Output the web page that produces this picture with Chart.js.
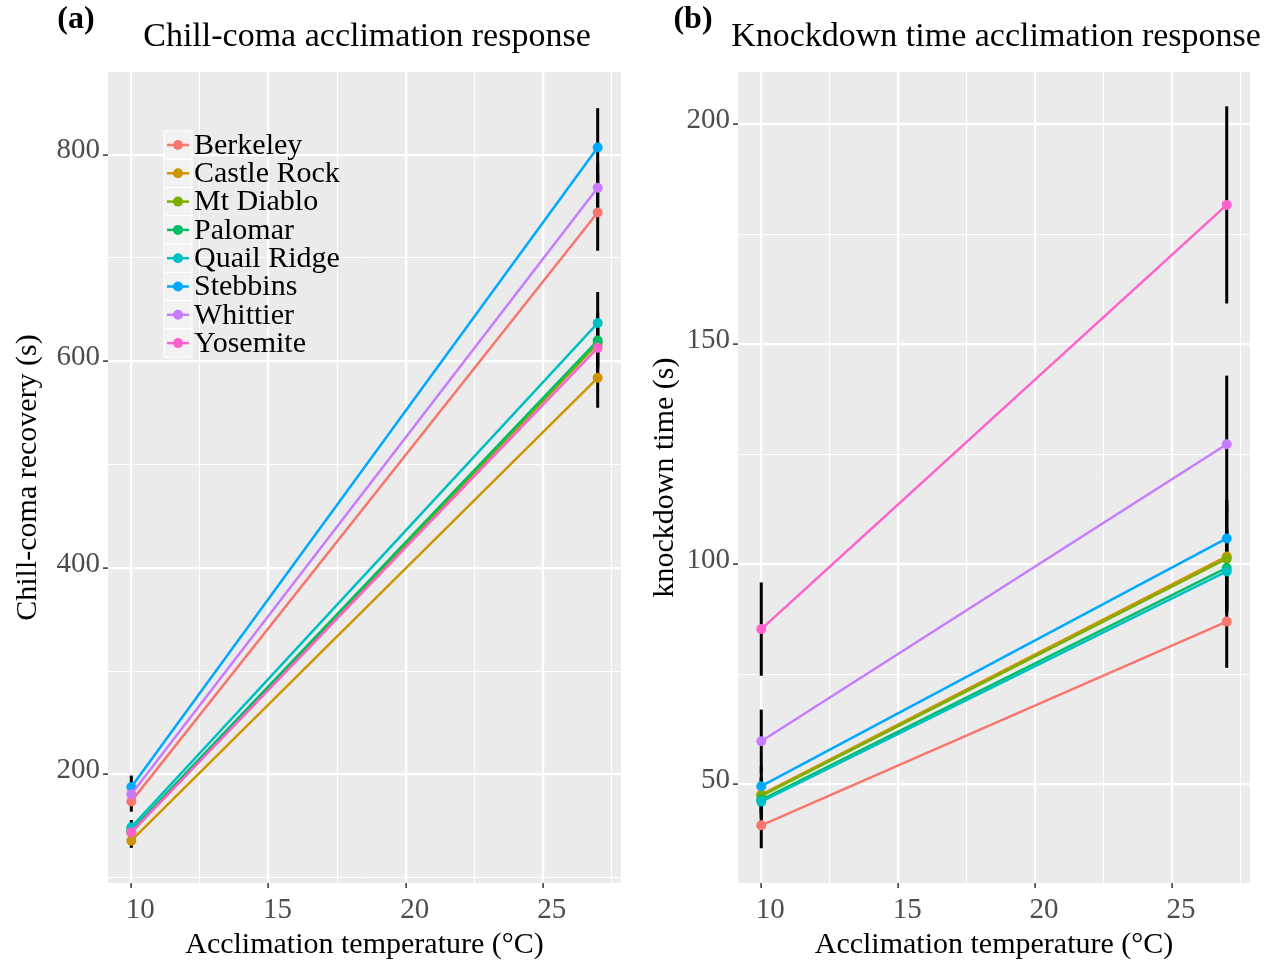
<!DOCTYPE html>
<html>
<head>
<meta charset="utf-8">
<script src="https://cdn.jsdelivr.net/npm/chart.js@4.4.1/dist/chart.umd.min.js"></script>
<style>
  body { margin: 0; background: #fff; }
  canvas { position: absolute; top: 0; }
  #chillChart { left: 0; }
  #kdChart { left: 637px; }
</style>
</head>
<body>
<canvas id="chillChart" width="637" height="964"></canvas>
<canvas id="kdChart" width="637" height="964"></canvas>
<script>
const temps = [10, 27];
const populations = ["Berkeley", "Castle Rock", "Mt Diablo", "Palomar", "Quail Ridge", "Stebbins", "Whittier", "Yosemite"];
const popColors = ["#F8766D", "#CD9600", "#7CAE00", "#00BE67", "#00BFC4", "#00A9FF", "#C77CFF", "#FF61CC"];

// chill-coma recovery (s), mean and error at each acclimation temp
const chillAt10 = [174, 136, 144, 146, 149, 188, 181, 144];
const chillAt27 = [744, 584, 617, 620, 637, 807, 768, 613];
const chillErr10 = [10, 7, 7, 8, 7, 11, 8, 7];
const chillErr27 = [37, 29, 22, 27, 30, 38, 24, 25];

// knockdown time (s)
const kdAt10 = [40.7, 47.7, 47.4, 46.5, 46.1, 49.6, 59.8, 85.3];
const kdAt27 = [87.0, 101.8, 101.3, 99.2, 98.4, 105.9, 127.3, 181.7];
const kdErr10 = [5.2, 4, 4, 4, 4, 4.5, 7.2, 10.6];
const kdErr27 = [10.5, 13, 12, 9, 9, 8.5, 15.6, 22.4];

const xTickValues = [10, 12.5, 15, 17.5, 20, 22.5, 25, 27.5];
const chillTickValues = [100, 200, 300, 400, 500, 600, 700, 800];
const kdTickValues = [50, 75, 100, 125, 150, 175, 200];

const SERIF = '"Liberation Serif", "Times New Roman", serif';

function buildDatasets(at10, at27, err10, err27) {
  return populations.map((name, i) => ({
    label: name,
    data: [{ x: temps[0], y: at10[i] }, { x: temps[1], y: at27[i] }],
    errors: [err10[i], err27[i]],
    borderColor: popColors[i],
    backgroundColor: popColors[i],
    borderWidth: 2.5,
    pointRadius: 5,
    pointHoverRadius: 5,
    pointBorderWidth: 0,
    order: populations.length - i
  }));
}

// grey panel like ggplot
const panelBg = {
  id: "panelBg",
  beforeDraw(chart) {
    const { ctx, chartArea: a } = chart;
    ctx.save();
    ctx.fillStyle = "#EBEBEB";
    ctx.fillRect(a.left, a.top, a.width, a.height);
    ctx.restore();
  }
};

const errorBars = {
  id: "errorBars",
  beforeDatasetsDraw(chart) {
    const { ctx, chartArea: a, scales: { y } } = chart;
    ctx.save();
    ctx.beginPath();
    ctx.rect(a.left, a.top, a.width, a.height);
    ctx.clip();
    ctx.strokeStyle = "#000";
    ctx.lineWidth = 3;
    chart.data.datasets.forEach((ds, i) => {
      const meta = chart.getDatasetMeta(i);
      ds.data.forEach((p, j) => {
        const px = meta.data[j].x;
        ctx.beginPath();
        ctx.moveTo(px, y.getPixelForValue(p.y - ds.errors[j]));
        ctx.lineTo(px, y.getPixelForValue(p.y + ds.errors[j]));
        ctx.stroke();
      });
    });
    ctx.restore();
  }
};

const panelTitle = {
  id: "panelTitle",
  afterDraw(chart, args, opts) {
    const { ctx } = chart;
    ctx.save();
    ctx.fillStyle = "#000";
    ctx.textBaseline = "middle";
    ctx.textAlign = "center";
    ctx.font = "bold 32px " + SERIF;
    ctx.fillText(opts.tag, opts.tagX, 20);
    ctx.font = "34px " + SERIF;
    ctx.fillText(opts.text, opts.textX, 37);
    ctx.restore();
  }
};

const insideLegend = {
  id: "insideLegend",
  afterDraw(chart, args, opts) {
    if (!opts.show) return;
    const { ctx } = chart;
    const rowH = 28.3;
    ctx.save();
    chart.data.datasets.forEach((ds, i) => {
      const cy = opts.y + i * rowH;
      ctx.fillStyle = "#F2F2F2";
      ctx.fillRect(opts.x, cy - rowH / 2, 28, rowH);
      ctx.strokeStyle = "#fff";
      ctx.lineWidth = 1;
      ctx.strokeRect(opts.x, cy - rowH / 2, 28, rowH);
      ctx.strokeStyle = ds.borderColor;
      ctx.lineWidth = 2.5;
      ctx.beginPath();
      ctx.moveTo(opts.x + 3, cy);
      ctx.lineTo(opts.x + 25, cy);
      ctx.stroke();
      ctx.fillStyle = ds.borderColor;
      ctx.beginPath();
      ctx.arc(opts.x + 14, cy, 5, 0, Math.PI * 2);
      ctx.fill();
      ctx.fillStyle = "#000";
      ctx.font = "30px " + SERIF;
      ctx.textBaseline = "middle";
      ctx.textAlign = "left";
      ctx.fillText(ds.label, opts.x + 30, cy + 1);
    });
    ctx.restore();
  }
};

function makeScales(yMin, yMax, yTicks, labelStep, yTitle, yWidth) {
  return {
    x: {
      type: "linear",
      min: 9.15,
      max: 27.85,
      afterBuildTicks: s => { s.ticks = xTickValues.map(v => ({ value: v })); },
      afterFit: s => { s.height = 81; },
      ticks: {
        callback: v => (v % 5 === 0 ? v : ""),
        font: { family: SERIF, size: 29 },
        color: "#4D4D4D",
        padding: 5,
        labelOffset: 9,
        maxRotation: 0,
        autoSkip: false
      },
      grid: {
        color: "#fff",
        lineWidth: c => (c.tick && c.tick.value % 5 === 0 ? 2.2 : 1),
        tickColor: c => (c.tick && c.tick.value % 5 === 0 ? "#333" : "rgba(0,0,0,0)"),
        tickWidth: 1.5,
        tickLength: 5
      },
      border: { display: false },
      title: {
        display: true,
        text: "Acclimation temperature (°C)",
        font: { family: SERIF, size: 30 },
        color: "#000",
        padding: { top: 0, bottom: 1 }
      }
    },
    y: {
      type: "linear",
      min: yMin,
      max: yMax,
      afterBuildTicks: s => { s.ticks = yTicks.map(v => ({ value: v })); },
      afterFit: s => { s.width = yWidth; },
      ticks: {
        callback: v => (v % labelStep === 0 ? v : ""),
        font: { family: SERIF, size: 29 },
        color: "#4D4D4D",
        padding: 3,
        labelOffset: -4
      },
      grid: {
        color: "#fff",
        lineWidth: c => (c.tick && c.tick.value % labelStep === 0 ? 2.2 : 1),
        tickColor: c => (c.tick && c.tick.value % labelStep === 0 ? "#333" : "rgba(0,0,0,0)"),
        tickWidth: 1.5,
        tickLength: 5
      },
      border: { display: false },
      title: {
        display: true,
        text: yTitle,
        font: { family: SERIF, size: 30 },
        color: "#000",
        padding: { top: 10, bottom: 0 }
      }
    }
  };
}

function makeChart(id, datasets, scales, padRight, titleOpts, legendOpts) {
  return new Chart(document.getElementById(id), {
    type: "line",
    data: { datasets },
    options: {
      responsive: false,
      animation: false,
      devicePixelRatio: 1,
      layout: { padding: { top: 72, right: padRight, left: 0, bottom: 0 } },
      scales,
      plugins: {
        legend: { display: false },
        tooltip: { enabled: false },
        panelTitle: titleOpts,
        insideLegend: legendOpts
      }
    },
    plugins: [panelBg, errorBars, panelTitle, insideLegend]
  });
}

makeChart(
  "chillChart",
  buildDatasets(chillAt10, chillAt27, chillErr10, chillErr27),
  makeScales(95, 880, chillTickValues, 200, "Chill-coma recovery (s)", 108),
  16,
  { tag: "(a)", tagX: 76, text: "Chill-coma acclimation response", textX: 367 },
  { show: true, x: 164, y: 145 }
);

makeChart(
  "kdChart",
  buildDatasets(kdAt10, kdAt27, kdErr10, kdErr27),
  makeScales(27.6, 211.9, kdTickValues, 50, "knockdown time (s)", 101),
  24,
  { tag: "(b)", tagX: 56, text: "Knockdown time acclimation response", textX: 359 },
  { show: false }
);
</script>
</body>
</html>
